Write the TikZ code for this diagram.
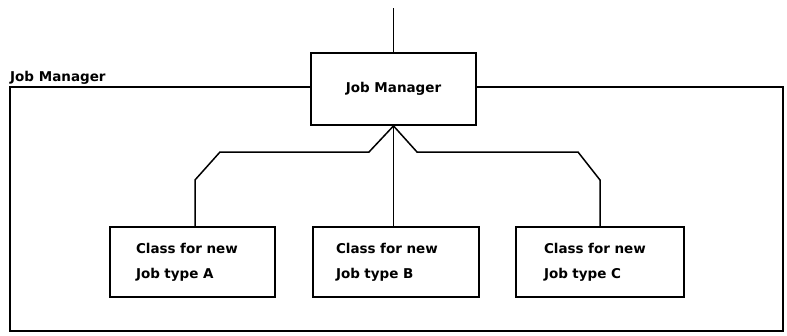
\documentclass[tikz,border=0pt]{standalone}
\usepackage{fontspec}
\setmainfont{DejaVu Sans}
\begin{document}
\begin{tikzpicture}[x=1pt,y=-1pt,
  frame/.style={line width=2pt},
  box/.style={draw,line width=1.8pt,fill=white,rectangle,inner ysep=0pt,minimum height=70pt},
  classbox/.style={box,text width=113pt,inner xsep=26pt,align=left,font={\fontsize{13.5}{25}\selectfont\bfseries}},
  conn/.style={line width=1.5pt,line join=miter},
  lbl/.style={font={\fontsize{13.5}{17}\selectfont\bfseries},inner sep=0pt}]
\useasboundingbox (0,0) rectangle (787,335);
% outer frame
\draw[frame] (10,87) rectangle (783,331);
\node[lbl,anchor=base west] (framelbl) at (10,81) {Job Manager};
% boxes
\node[box,minimum width=165pt,minimum height=72pt,font={\fontsize{13.5}{17}\selectfont\bfseries}] (jm) at (393.5,89) {Job Manager};
\node[classbox] (A) at (192.5,262) {Class for new\\Job type A};
\node[classbox,inner xsep=23pt,text width=120pt] (B) at (396,262) {Class for new\\Job type B};
\node[classbox,inner xsep=28pt,text width=112pt] (C) at (600,262) {Class for new\\Job type C};
% connectors
\coordinate (top) at (393.5,8);
\draw[conn] (top) -- (jm.north);
\coordinate (la) at (369,152);
\coordinate (lb) at (220,152);
\coordinate (lc) at (195,180);
\coordinate (ra) at (417,152);
\coordinate (rb) at (578,152);
\coordinate (rc) at (600,180);
\draw[conn] (jm.south) -- (la) -- (lb) -- (lc) -- (A.north -| lc);
\draw[conn] (jm.south) -- (jm.south |- B.north);
\draw[conn] (jm.south) -- (ra) -- (rb) -- (rc) -- (C.north -| rc);
\end{tikzpicture}
\end{document}
